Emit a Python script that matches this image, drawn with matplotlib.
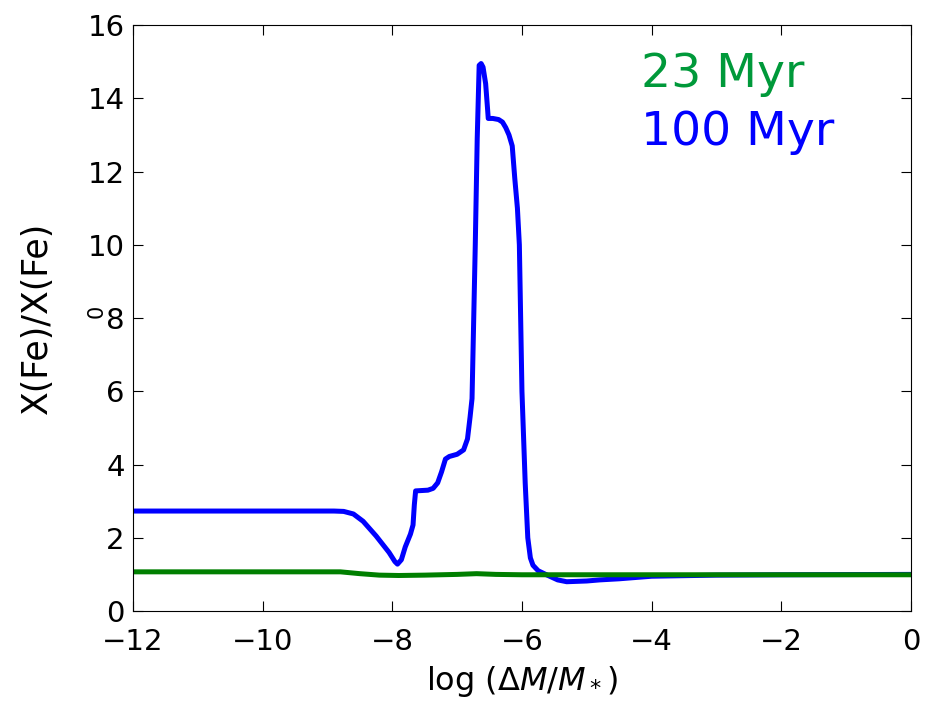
import numpy as np
import matplotlib
matplotlib.use('Agg')
from matplotlib import pyplot as plt

# log(dM/M*) and abundance ratio
blue_x = [-12, -8.9, -8.75, -8.6, -8.45, -8.25, -8.05, -7.96, -7.92, -7.86, -7.8, -7.72,
          -7.68, -7.66, -7.64, -7.45, -7.37, -7.3, -7.24, -7.18, -7.12, -7.0,
          -6.9, -6.84, -6.8, -6.77, -6.72, -6.69, -6.66, -6.63, -6.6, -6.56,
          -6.53, -6.52, -6.45, -6.36, -6.3, -6.25, -6.2, -6.15, -6.11, -6.07,
          -6.04, -6.02, -6.0, -5.97, -5.95, -5.91, -5.87, -5.83, -5.75, -5.61,
          -5.45, -5.31, -5.0, -4.8, -4.5, -4.0, -3.0, -2.0, 0]
blue_y = [2.73, 2.73, 2.72, 2.65, 2.45, 2.05, 1.6, 1.35, 1.28, 1.4, 1.75, 2.1,
          2.35, 2.9, 3.28, 3.3, 3.35, 3.5, 3.8, 4.15, 4.22, 4.28,
          4.4, 4.7, 5.3, 5.8, 10.0, 12.9, 14.9, 14.95, 14.85, 14.4,
          13.7, 13.45, 13.45, 13.42, 13.35, 13.2, 13.0, 12.7, 11.8, 11.0,
          10.0, 8.0, 6.0, 4.5, 3.5, 2.0, 1.45, 1.25, 1.1, 0.98,
          0.85, 0.8, 0.82, 0.85, 0.88, 0.95, 0.98, 0.99, 1.0]

green_x = [-12, -8.8, -8.5, -8.2, -7.9, -7.5, -7.0, -6.7, -6.4, -6.0, -5.0, -4.0, 0]
green_y = [1.07, 1.07, 1.02, 0.98, 0.97, 0.98, 1.0, 1.02, 1.0, 0.99, 0.99, 0.99, 0.99]

labels = ['23 Myr', '100 Myr']

plt.rcParams['font.family'] = 'DejaVu Sans'
plt.rcParams['mathtext.fontset'] = 'dejavusans'

fig = plt.figure(figsize=(9.43, 7.02), dpi=100)
ax = fig.add_axes([0.141, 0.1296, 0.825, 0.8347])

ax.plot(blue_x, blue_y, color='#0000ff', lw=3.6)
ax.plot(green_x, green_y, color='#007f00', lw=3.6)

ax.set_xlim(-12, 0)
ax.set_ylim(0, 16)
ax.set_xticks(np.arange(-12, 1, 2))
ax.set_yticks(np.arange(0, 17, 2))
ax.tick_params(direction='in', top=True, right=True, labelsize=21, length=7, pad=6)
ax.tick_params(axis='x', pad=12)
ax.set_xticklabels(['\u221212', '\u221210', '\u22128', '\u22126', '\u22124', '\u22122', '0'])

ax.set_xlabel(r'log ($\Delta M/M_*$)', fontsize=23, labelpad=6)
ax.set_ylabel('X(Fe)/X(Fe)', fontsize=25, labelpad=24)
fig.text(97 / 943, 1 - 311 / 702, '0', rotation=90, fontsize=15, ha='center', va='center')

ax.text(0.653, 0.895, labels[0], color='#00993a', fontsize=34, transform=ax.transAxes)
ax.text(0.653, 0.795, labels[1], color='#0000ff', fontsize=34, transform=ax.transAxes)

plt.savefig('out.png', dpi=100)
